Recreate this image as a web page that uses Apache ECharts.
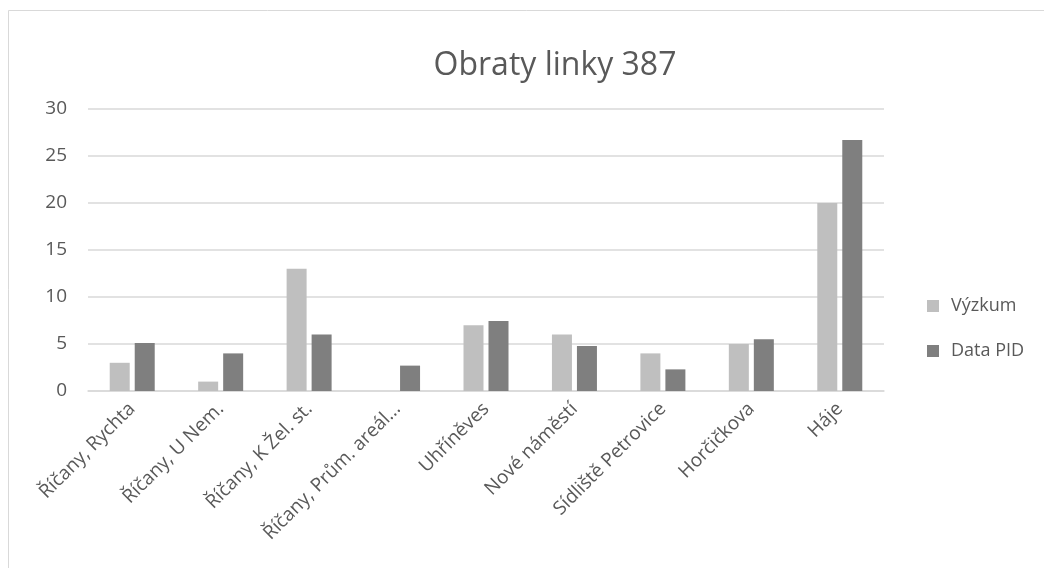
<!DOCTYPE html>
<html>
<head>
<meta charset="utf-8">
<script src="https://cdn.jsdelivr.net/npm/echarts@6/dist/echarts.min.js"></script>
<style>
  html, body { margin: 0; padding: 0; background: #ffffff; }
  #chart { width: 1044px; height: 568px; }
</style>
</head>
<body>
<div id="chart"></div>
<script>
// Stops of line 387
const stops = [
  'Říčany, Rychta',
  'Říčany, U Nem.',
  'Říčany, K Žel. st.',
  'Říčany, Prům. areál...',
  'Uhříněves',
  'Nové náměstí',
  'Sídliště Petrovice',
  'Horčičkova',
  'Háje'
];
// Turnarounds counted in the survey
const vyzkum = [3, 1, 13, 0, 7, 6, 4, 5, 20];
// Turnarounds from PID data
const dataPid = [5.1, 4.0, 6.0, 2.7, 7.45, 4.8, 2.3, 5.5, 26.7];
const yTicks = [0, 5, 10, 15, 20, 25, 30];

const font = '"Open Sans", "Noto Sans", sans-serif';
const chart = echarts.init(document.getElementById('chart'));
chart.setOption({
  animation: false,
  backgroundColor: '#ffffff',
  graphic: [{
    type: 'rect',
    shape: { x: 8.5, y: 10.5, width: 1200, height: 800 },
    style: { fill: 'none', stroke: '#d9d9d9', lineWidth: 1 },
    silent: true,
    z: -1
  }],
  title: {
    text: 'Obraty linky 387',
    left: 550,
    top: 45,
    textAlign: 'center',
    textStyle: { fontFamily: font, fontSize: 32, fontWeight: 'normal', color: '#595959' }
  },
  legend: {
    orient: 'vertical',
    left: 922,
    top: 292,
    itemWidth: 12,
    itemHeight: 12,
    itemGap: 27,
    icon: 'rect',
    textStyle: { fontFamily: font, fontSize: 18, color: '#595959', padding: [0, 0, 0, 7] },
    data: ['Výzkum', 'Data PID']
  },
  grid: { left: 88, right: 160, top: 109, bottom: 177, containLabel: false },
  xAxis: {
    type: 'category',
    data: stops,
    axisLine: { lineStyle: { color: '#d9d9d9', width: 1.5 } },
    axisTick: { show: false },
    axisLabel: {
      rotate: 45,
      interval: 0,
      margin: 15,
      fontFamily: font,
      fontSize: 19,
      color: '#595959'
    }
  },
  yAxis: {
    type: 'value',
    min: yTicks[0],
    max: yTicks[yTicks.length - 1],
    interval: 5,
    axisLine: { show: false },
    axisTick: { show: false },
    splitLine: { lineStyle: { color: '#d9d9d9', width: 1.5 } },
    axisLabel: { fontFamily: font, fontSize: 19, color: '#595959', margin: 21 }
  },
  series: [
    {
      name: 'Výzkum',
      type: 'bar',
      data: vyzkum,
      barWidth: 20,
      barGap: '25%',
      itemStyle: { color: '#bfbfbf' }
    },
    {
      name: 'Data PID',
      type: 'bar',
      data: dataPid,
      barWidth: 20,
      itemStyle: { color: '#7f7f7f' }
    }
  ]
});
</script>
</body>
</html>
